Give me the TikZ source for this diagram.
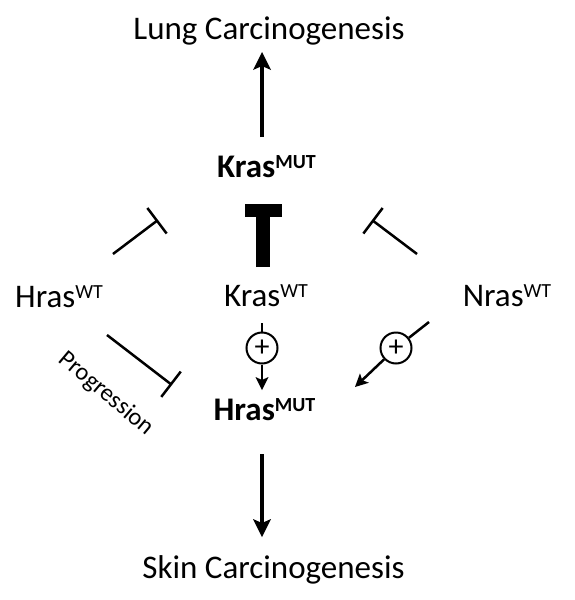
\documentclass[tikz,border=0pt]{standalone}
\usepackage{fontspec}
\setmainfont{Carlito}
\usetikzlibrary{arrows.meta}
\newcommand\sups[1]{\raisebox{8.5pt}{\fontsize{20}{20}\selectfont #1}}
\begin{document}
\begin{tikzpicture}[x=1pt,y=-1pt,
 txt/.style={font=\fontsize{33}{36}\selectfont, inner sep=0pt, anchor=base},
 boldtxt/.style={txt, font=\fontsize{33}{36}\selectfont\bfseries},
 bigarrow/.style={line width=3.5pt, -{Stealth[length=18pt,width=18pt,inset=4pt,line width=0pt]}},
 inhib/.style={line width=2.5pt, -{Bar[width=32pt,line width=2.5pt]}},
 plusc/.style={circle, draw, line width=2pt, minimum size=31pt, inner sep=0pt, font=\fontsize{30}{30}\selectfont},
 actline/.style={line width=2.5pt},
 acthead/.style={line width=2.5pt, -{Stealth[length=13pt,width=13pt,inset=3pt,line width=0pt]}}
]
\useasboundingbox (0,0) rectangle (574,600);
% text nodes
\node[txt] (lung) at (269,39) {Lung Carcinogenesis};
\node[boldtxt] (krasmut) at (266.5,177) {Kras\sups{MUT}};
\node[txt, anchor=base west] (hraswt) at (15,307) {Hras\sups{WT}};
\node[txt] (kraswt) at (266,306) {Kras\sups{WT}};
\node[txt] (nraswt) at (507,306) {Nras\sups{WT}};
\node[boldtxt] (hrasmut) at (264.5,420) {Hras\sups{MUT}};
\node[txt] (skin) at (273.5,578) {Skin Carcinogenesis};
\node[font=\fontsize{24.5}{24.5}\selectfont, rotate=-40, inner sep=0pt] (prog) at (106,394) {Progression};
% plus circles
\node[plusc] (pk) at (262,348) {+};
\node[plusc] (pn) at (396,348) {+};
% connector end points
\coordinate (up0) at (262,137);
\coordinate (up1) at (262,52);
\coordinate (dn0) at (262,454);
\coordinate (dn1) at (262,537);
\coordinate (t0) at (263,267);
\coordinate (t1) at (263,204);
\coordinate (li0) at (113,254);
\coordinate (li1) at (158,220);
\coordinate (ri0) at (417,254);
\coordinate (ri1) at (372,220);
\coordinate (hi0) at (107,335);
\coordinate (hi1) at (172,385);
\coordinate (k0) at (262,323);
\coordinate (k1) at (262,390);
\coordinate (n0) at (429,322);
\coordinate (n1) at (355,387);
% connectors
\draw[bigarrow] (up0) -- (up1);
\draw[bigarrow] (dn0) -- (dn1);
\draw[line width=14pt, -{Rectangle[length=13pt,width=37pt,line width=0pt]}] (t0) -- (t1);
\draw[inhib] (li0) -- (li1);
\draw[inhib] (ri0) -- (ri1);
\draw[inhib] (hi0) -- (hi1);
\draw[actline] (k0) -- (pk);
\draw[acthead] (pk) -- (k1);
\draw[actline] (n0) -- (pn);
\draw[acthead] (pn) -- (n1);
\end{tikzpicture}
\end{document}
